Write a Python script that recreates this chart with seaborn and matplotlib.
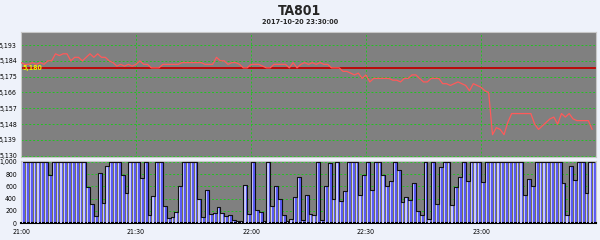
import numpy as np
import pandas as pd
import matplotlib
matplotlib.use("Agg")
import matplotlib.pyplot as plt
import seaborn as sns
from matplotlib import font_manager
from matplotlib.font_manager import FontProperties

title = "TA801"
subtitle = "2017-10-20 23:30:00"
minutes = list(range(150))
price = [5183, 5182, 5182, 5183, 5182, 5183, 5182, 5184, 5184, 5188,
         5187, 5188, 5188, 5184, 5186, 5186, 5184, 5186, 5188, 5186,
         5188, 5186, 5186, 5184, 5183, 5181, 5182, 5181, 5182, 5181,
         5182, 5184, 5182, 5182, 5180, 5180, 5180, 5182, 5182, 5182,
         5182, 5182, 5183, 5183, 5183, 5183, 5183, 5183, 5182, 5182,
         5182, 5186, 5184, 5184, 5182, 5183, 5183, 5182, 5180, 5180,
         5182, 5182, 5182, 5181, 5180, 5180, 5182, 5182, 5182, 5182,
         5180, 5183, 5180, 5182, 5183, 5182, 5183, 5182, 5183, 5182,
         5182, 5180, 5180, 5180, 5178, 5178, 5177, 5176, 5177, 5174,
         5176, 5172, 5174, 5174, 5174, 5174, 5174, 5173, 5173, 5172,
         5174, 5174, 5176, 5176, 5174, 5172, 5172, 5174, 5174, 5174,
         5171, 5171, 5170, 5171, 5172, 5171, 5170, 5167, 5171, 5170,
         5169, 5167, 5166, 5142, 5146, 5145, 5142, 5149, 5154, 5154,
         5154, 5154, 5154, 5154, 5148, 5145, 5147, 5149, 5151, 5152,
         5148, 5154, 5152, 5154, 5151, 5150, 5150, 5150, 5150, 5145]
volume = [1000, 1000, 1000, 1000, 1000, 1000, 1000, 780, 1000, 1000,
          1000, 1000, 1000, 1000, 1000, 1000, 1000, 590, 311, 110,
          820, 328, 930, 1000, 1000, 1000, 790, 490, 1000, 1000,
          1000, 740, 1000, 136, 437, 1000, 1000, 273, 82, 93,
          180, 600, 1000, 1000, 1000, 1000, 393, 93, 535, 148,
          164, 257, 164, 109, 137, 49, 27, 27, 617, 148,
          1000, 208, 180, 27, 1000, 284, 600, 400, 126, 27,
          60, 420, 750, 44, 454, 148, 137, 1000, 55, 612,
          978, 393, 1000, 366, 519, 1000, 1000, 1000, 464, 781,
          1000, 535, 1000, 1000, 781, 612, 683, 1000, 863, 339,
          421, 372, 650, 191, 126, 1000, 60, 1000, 311, 913,
          1000, 1000, 300, 585, 749, 1000, 683, 1000, 1000, 1000,
          672, 1000, 1000, 1000, 1000, 1000, 1000, 1000, 1000, 1000,
          1000, 454, 727, 612, 1000, 1000, 1000, 1000, 1000, 1000,
          1000, 650, 137, 929, 700, 1000, 1000, 492, 1000, 1000]
ref_price = 5180
price_ticks = [5130, 5139, 5148, 5157, 5166, 5175, 5184, 5193]
vol_ticks = [0, 200, 400, 600, 800, 1000]
time_ticks = [0, 30, 60, 90, 120]
time_labels = ["21:00", "21:30", "22:00", "22:30", "23:00"]

sns.set_style("white")
plt.rcParams["font.family"] = ["Liberation Sans", "DejaVu Sans"]


def find_narrow(bold):
    best = None
    for f in font_manager.fontManager.ttflist:
        fn = f.fname.lower().replace("\\", "/").split("/")[-1]
        if not ("condensed" in fn or "narrow" in fn):
            continue
        if "serif" in fn or "mono" in fn or "italic" in fn or "oblique" in fn:
            continue
        if "light" in fn or "semi" in fn or "extra" in fn or "black" in fn:
            continue
        is_bold = "bold" in fn
        if is_bold == bold:
            if best is None or "dejavu" in fn or "liberation" in fn:
                best = f.fname
    return best


def fprop(size, bold=False):
    path = find_narrow(bold)
    if path:
        return FontProperties(fname=path, size=size)
    return FontProperties(family=["Liberation Sans", "DejaVu Sans"], size=size,
                          weight="bold" if bold else "normal")


BG = "#eef2fa"
AXBG = "#808080"
GRID = "#22c422"

fig = plt.figure(figsize=(6, 2.4), dpi=100, facecolor=BG)
ax1 = fig.add_axes([21 / 600, 1 - 157 / 240, 575 / 600, 125 / 240])
ax2 = fig.add_axes([21 / 600, 1 - 223 / 240, 575 / 600, 62 / 240])

for ax in (ax1, ax2):
    ax.set_facecolor(AXBG)
    for s in ax.spines.values():
        s.set_color("#c8c8c8")
        s.set_linewidth(0.8)

tick_fp = fprop(5.0)

# price panel
df_p = pd.DataFrame({"minute": minutes, "price": price})
ax1.axhline(ref_price, color="#c00000", lw=1.3, zorder=2)
sns.lineplot(data=df_p, x="minute", y="price", ax=ax1, color="#ff5a5a", lw=0.9, zorder=3)
ax1.set_xlim(0, 150)
ax1.set_ylim(5129.3, 5200.4)
ax1.set_yticks(price_ticks)
ax1.set_yticklabels([f"{v:,}" for v in price_ticks])
ax1.set_xticks(time_ticks[1:])
ax1.set_xticklabels([])
ax1.grid(True, color=GRID, linestyle=(0, (2, 2)), linewidth=0.7)
ax1.set_axisbelow(True)
ax1.set_xlabel("")
ax1.set_ylabel("")
ax1.tick_params(axis="y", length=2, pad=1, colors="#909090", labelcolor="black")
ax1.tick_params(axis="x", length=0)
for lab in ax1.get_yticklabels():
    lab.set_fontproperties(tick_fp)
ax1.text(0.3, ref_price, f"{ref_price:,}", color="#f0f000",
         fontproperties=fprop(5.0, True), va="center", ha="left", zorder=5)

# volume panel
xs = np.array(minutes) + 0.5
df_v = pd.DataFrame({"x": xs, "volume": volume})
sns.barplot(data=df_v, x="x", y="volume", native_scale=True, width=1.0,
            color="#5a5af4", edgecolor="#7c7c34", linewidth=0.5,
            saturation=1, errorbar=None, ax=ax2, zorder=2)
df_h = pd.DataFrame({"x": xs - 0.08, "volume": volume})
sns.barplot(data=df_h, x="x", y="volume", native_scale=True, width=0.3,
            color="#c8c8ff", linewidth=0, saturation=1, errorbar=None,
            ax=ax2, zorder=3)
sns.lineplot(data=df_v, x="x", y="volume", ax=ax2, color="#111111", lw=0.8,
             drawstyle="steps-mid", zorder=4)
ax2.set_xlim(0, 150)
ax2.set_ylim(0, 1016)
ax2.set_yticks(vol_ticks)
ax2.set_yticklabels([f"{v:,}" for v in vol_ticks])
ax2.set_xticks(time_ticks)
ax2.set_xticklabels(time_labels)
ax2.grid(True, axis="y", color=GRID, linestyle=(0, (2, 2)), linewidth=0.7)
ax2.set_axisbelow(True)
ax2.set_xlabel("")
ax2.set_ylabel("")
ax2.spines["bottom"].set_color("black")
ax2.spines["bottom"].set_linewidth(1.5)
ax2.tick_params(axis="y", length=2, pad=1, colors="#909090", labelcolor="black")
ax2.tick_params(axis="x", length=2, pad=2.5, colors="#909090", labelcolor="black")
for lab in ax2.get_yticklabels() + ax2.get_xticklabels():
    lab.set_fontproperties(tick_fp)

fig.text(0.5, 1 - 11 / 240, title, ha="center", va="center", fontproperties=fprop(10, True))
fig.text(0.5, 1 - 22.5 / 240, subtitle, ha="center", va="center", fontproperties=fprop(5.2, True))

fig.savefig("out.png", dpi=100, facecolor=BG)
